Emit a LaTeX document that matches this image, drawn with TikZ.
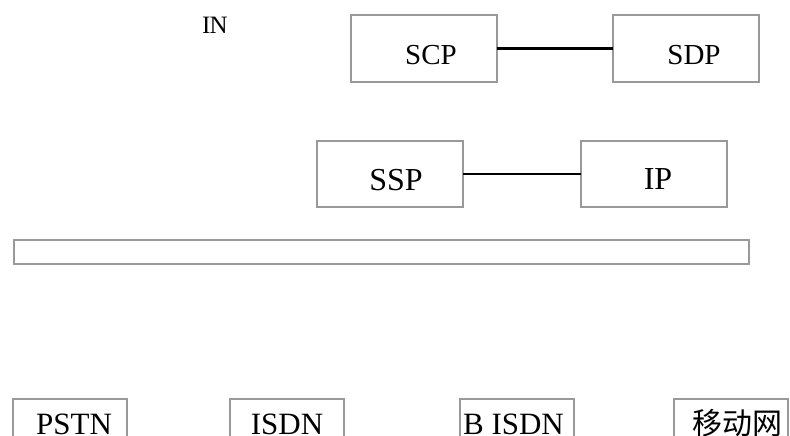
\documentclass[tikz,border=0pt]{standalone}
\usepackage{fontspec}
\setmainfont{Liberation Serif}
\newfontfamily\cjk{Noto Sans CJK SC}
\begin{document}
\begin{tikzpicture}[x=1pt,y=-1pt,
  box/.style={draw=black!40, line width=2pt, inner sep=0pt, outer sep=0pt, fill=white},
  bigbox/.style={box, minimum width=146pt, minimum height=67pt},
  netbox/.style={box, minimum width=114pt, minimum height=60pt},
  lbl/.style={font=\fontsize{29}{29}\selectfont, anchor=base, inner sep=0pt},
  lblb/.style={lbl, font=\fontsize{32}{32}\selectfont},
  lblc/.style={lbl, font=\fontsize{31}{31}\selectfont},
  link/.style={line width=2.4pt, black}]
\useasboundingbox (0,0) rectangle (790,436);
\clip (0,0) rectangle (790,436);
% boxes
\node[bigbox] (scp) at (423.5,48.5) {};
\node[bigbox] (sdp) at (686,48.5) {};
\node[bigbox, minimum height=66pt] (ssp) at (390,174) {};
\node[bigbox, minimum height=66pt] (ip) at (654,174) {};
\node[box, minimum width=735pt, minimum height=24pt] (bus) at (381.5,251.5) {};
\node[netbox] (pstn) at (70,429) {};
\node[netbox] (isdn) at (286.5,429) {};
\node[netbox] (bisdn) at (516.5,429) {};
\node[netbox] (mobile) at (731,429) {};
% connectors
\draw[link] (scp) -- (sdp);
\draw[link] (ssp) -- (ip);
% labels
\node[lbl, font=\fontsize{25}{25}\selectfont, anchor=base west] (in) at (202,34) {I\kern-1ptN};
\node[lbl] (tscp) at (431,65) {SCP};
\node[lbl] (tsdp) at (694,65) {SDP};
\node[lblb] (tssp) at (396,190) {SSP};
\node[lblb] (tip) at (658,189) {IP};
\node[lblc] (tpstn) at (74,434) {PSTN};
\node[lblc] (tisdn) at (287,434) {ISDN};
\node[lblc] (tbisdn) at (513.5,434) {B ISDN};
\node[lbl, font=\cjk\fontsize{30}{30}\selectfont] (tmobile) at (737.5,434) {移动网};
\end{tikzpicture}
\end{document}
